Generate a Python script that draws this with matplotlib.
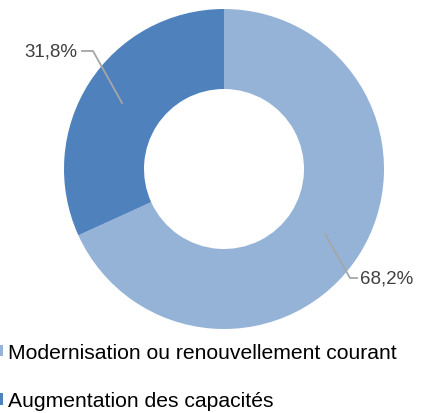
import matplotlib
matplotlib.use("Agg")
import matplotlib.pyplot as plt

# ── data ──────────────────────────────────────────────────────────────────────
categories = ["Modernisation ou renouvellement courant", "Augmentation des capacités"]
shares = [68.2, 31.8]
labels = ["68,2%", "31,8%"]
colors = ["#95b3d7", "#4f81bd"]

# ── figure ────────────────────────────────────────────────────────────────────
W, H = 426, 414
fig = plt.figure(figsize=(W / 100, H / 100), dpi=100)
fig.patch.set_facecolor("white")

cx, cy, r = 224, 170, 160
ax = fig.add_axes([(cx - r) / W, (H - cy - r) / H, 2 * r / W, 2 * r / H])
wedges, _ = ax.pie(shares, colors=colors, startangle=90, counterclock=False,
                   radius=1.0, wedgeprops=dict(width=0.5, edgecolor="none"))
ax.set_xlim(-1, 1)
ax.set_ylim(-1, 1)
ax.set_aspect("equal")
ax.axis("off")

# leader lines + labels (positions in axes data units)
lbl_font = dict(family="Liberation Sans", fontsize=13.5, color="#404040")
lead = "#a6a6a6"
# 68,2%
ax.plot([(325 - cx) / r, (350 - cx) / r, (357 - cx) / r],
        [-(235 - cy) / r, -(279 - cy) / r, -(279 - cy) / r], color=lead, lw=1.3)
ax.text((360 - cx) / r, -(279 - cy) / r, labels[0], ha="left", va="center",
        clip_on=False, **lbl_font)
# 31,8%
ax.plot([(122 - cx) / r, (93 - cx) / r, (82 - cx) / r],
        [-(104 - cy) / r, -(52 - cy) / r, -(52 - cy) / r], color=lead, lw=1.3)
ax.text((77 - cx) / r, -(52 - cy) / r, labels[1], ha="right", va="center",
        clip_on=False, **lbl_font)

# legend: markers sit mostly off the left edge, as in the reference
fig.legend(wedges, categories, loc="upper left",
           bbox_to_anchor=(-0.018, 1 - 344 / H), frameon=False,
           prop=dict(family="Liberation Sans", size=15.2),
           handlelength=0.5, handleheight=0.48, handletextpad=0.24,
           labelspacing=1.38, borderpad=0, borderaxespad=0)

fig.savefig("out.png", dpi=100)
